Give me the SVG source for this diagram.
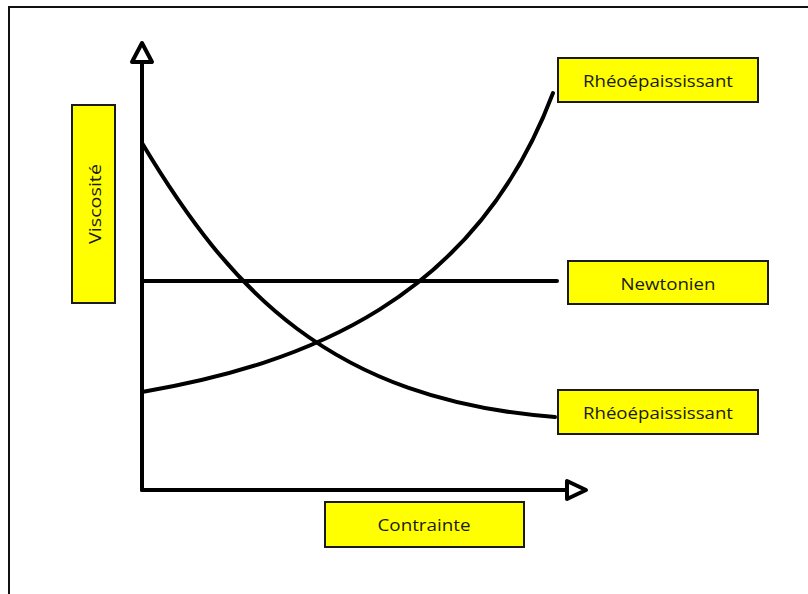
<svg xmlns="http://www.w3.org/2000/svg" width="808" height="594" viewBox="0 0 808 594">
<style>
.lbl rect{fill:#ffff00;stroke:#1a1a1a;stroke-width:2}
.lbl text{font-family:"Open Sans","Liberation Sans",sans-serif;font-size:17px;fill:#1a1a1a;text-anchor:middle;dominant-baseline:central}
.ln{fill:none;stroke:#000;stroke-width:4;stroke-linecap:round}
</style>
<rect x="0" y="0" width="808" height="594" fill="#fff"/>
<path d="M9,600 V7 H820" fill="none" stroke="#111" stroke-width="2"/>
<g id="connectors">
<path class="ln" d="M142,490 V62"/>
<path d="M142,43 L152,62 H132 Z" fill="#fff" stroke="#000" stroke-width="4" stroke-linejoin="round"/>
<path class="ln" d="M142,490 H567"/>
<path d="M586,490 L567,481 V499 Z" fill="#fff" stroke="#000" stroke-width="4" stroke-linejoin="round"/>
<path class="ln" d="M142,281 H557"/>
<path class="ln" d="M142,143 C230,290 330,400 555,417"/>
<path class="ln" d="M142,392 C305,364 475,300 553,93"/>
</g>
<g id="viscosite" class="lbl"><rect x="72" y="105" width="43" height="198"/><text transform="translate(94,204) rotate(-90)" textLength="80" lengthAdjust="spacingAndGlyphs">Viscosité</text></g>
<g id="rheo-top" class="lbl"><rect x="558" y="58" width="200" height="44"/><text x="658" y="80" textLength="150" lengthAdjust="spacingAndGlyphs">Rhéoépaississant</text></g>
<g id="newtonien" class="lbl"><rect x="568" y="261" width="200" height="43"/><text x="668" y="283" textLength="95" lengthAdjust="spacingAndGlyphs">Newtonien</text></g>
<g id="rheo-bottom" class="lbl"><rect x="558" y="390" width="200" height="44"/><text x="658" y="412" textLength="150" lengthAdjust="spacingAndGlyphs">Rhéoépaississant</text></g>
<g id="contrainte" class="lbl"><rect x="325" y="502" width="199" height="45"/><text x="424" y="524" textLength="93" lengthAdjust="spacingAndGlyphs">Contrainte</text></g>
</svg>
